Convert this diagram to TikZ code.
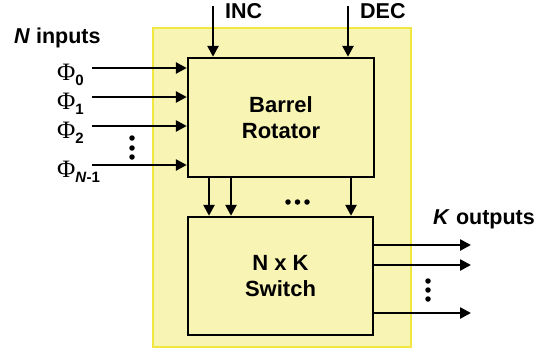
\documentclass[tikz,border=0pt]{standalone}
\usepackage{fontspec}
\setmainfont{Liberation Sans}
\newfontfamily\phifont{Liberation Serif}
\usetikzlibrary{arrows.meta}
\definecolor{bgyellow}{HTML}{F8F4B4}
\definecolor{edgeyellow}{HTML}{F0E840}
\tikzset{
  blockbox/.style={draw=black, line width=2.4pt, fill=bgyellow, inner sep=0pt, align=center,
    font=\fontsize{22}{25.5}\selectfont\bfseries},
  sig/.style={line width=2.5pt, -{Triangle[length=11pt,width=11pt]}},
  lbl/.style={anchor=base west, inner sep=0pt, font=\fontsize{21.5}{24}\selectfont\bfseries},
  phil/.style={anchor=base west, inner sep=0pt},
  dotc/.style={circle, fill=black, inner sep=0pt, minimum size=5.5pt}
}
\newcommand{\phisub}[1]{{\phifont\fontsize{25}{25}\selectfont\char"03A6}\raisebox{-5pt}{\fontsize{15}{14}\selectfont\bfseries #1}}
\begin{document}
\begin{tikzpicture}[x=1pt,y=-1pt]
\useasboundingbox (0,0) rectangle (548,351);
% outer yellow area
\draw[draw=edgeyellow, fill=bgyellow, line width=2pt] (153,28) rectangle (411,347);
% blocks
\node[blockbox, minimum width=186pt, minimum height=119pt] (rot) at (281,117.5) {Barrel\\Rotator};
\node[blockbox, minimum width=185pt, minimum height=118pt] (sw) at (280.5,276) {N x K\\Switch};
% N inputs
\node[lbl] (nin) at (14,43) {\textit{N} inputs};
\foreach \y/\n/\s in {68/0/0, 97/1/1, 126/2/2, 165/3/\textit{N}-1}{
  \coordinate (i\n) at (92,\y);
  \draw[sig] (i\n) -- (i\n -| rot.west);
  \node[phil] (p\n) at (57,\y+12) {\phisub{\s}};
}
\node[dotc] (ld1) at (132,138) {};
\node[dotc] (ld2) at (132,148) {};
\node[dotc] (ld3) at (132,157) {};
% INC / DEC
\coordinate (inc) at (213,6);
\coordinate (dec) at (348,6);
\draw[sig] (inc) -- (inc |- rot.north);
\draw[sig] (dec) -- (dec |- rot.north);
\node[lbl] (tinc) at (225,18) {INC};
\node[lbl] (tdec) at (360,18) {DEC};
% rotator to switch
\foreach \x/\n in {209/a, 231/b, 351/c}{
  \coordinate (r\n) at (\x,0);
  \draw[sig] (r\n |- rot.south) -- (r\n |- sw.north);
}
\node[dotc] (md1) at (288,202) {};
\node[dotc] (md2) at (297.5,202) {};
\node[dotc] (md3) at (307,202) {};
% outputs
\foreach \y/\n in {245/0, 265/1, 313/2}{
  \coordinate (o\n) at (471,\y);
  \draw[sig] (o\n -| sw.east) -- (o\n);
}
\node[dotc] (rd1) at (428,281) {};
\node[dotc] (rd2) at (428,290) {};
\node[dotc] (rd3) at (428,299) {};
\node[lbl] (kout) at (433,224) {\textit{K} outputs};
\end{tikzpicture}
\end{document}
